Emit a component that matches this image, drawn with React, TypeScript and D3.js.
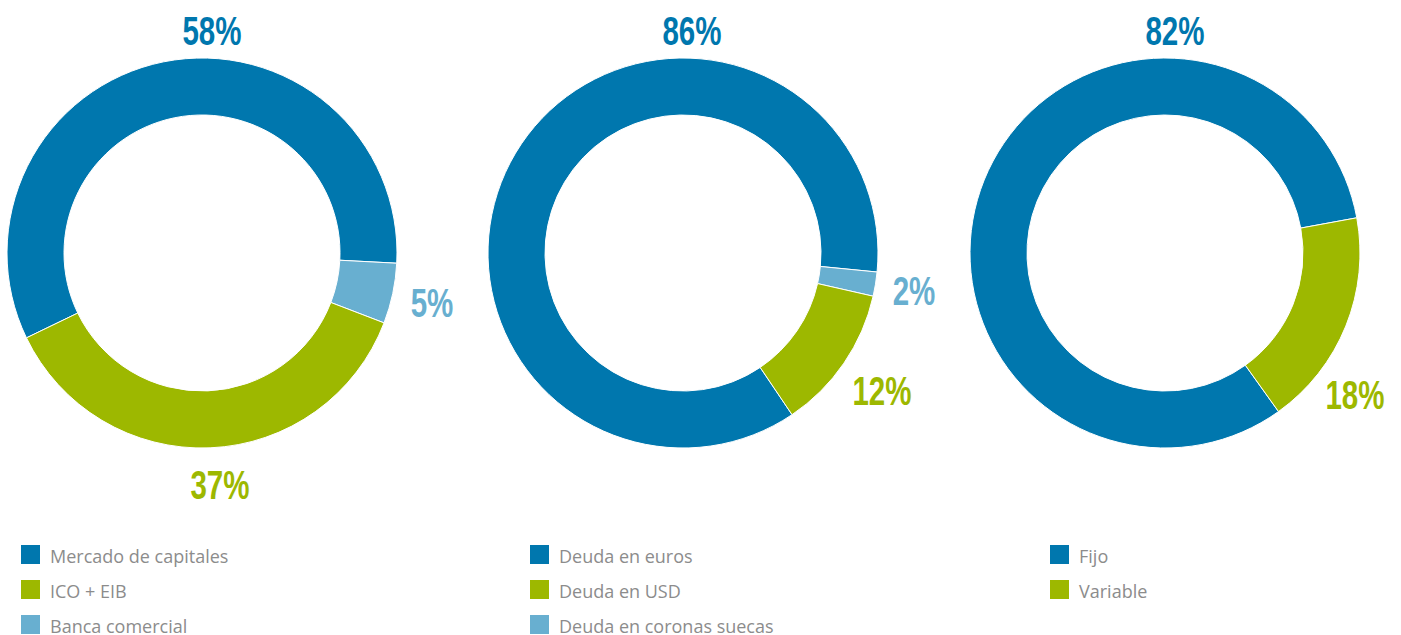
import React from "react";
import * as d3 from "d3";

const chart1Categories = ["Mercado de capitales", "Banca comercial", "ICO + EIB"];
const chart1Values = [58, 5, 37];
const chart2Categories = ["Deuda en euros", "Deuda en coronas suecas", "Deuda en USD"];
const chart2Values = [86, 2, 12];
const chart3Categories = ["Fijo", "Variable"];
const chart3Values = [82, 18];

const legend1 = ["Mercado de capitales", "ICO + EIB", "Banca comercial"];
const legend2 = ["Deuda en euros", "Deuda en USD", "Deuda en coronas suecas"];
const legend3 = ["Fijo", "Variable"];

const BLUE = "#0077ae";
const GREEN = "#9db800";
const LIGHT = "#68afd0";

const colorOf: Record<string, string> = {
  "Mercado de capitales": BLUE,
  "ICO + EIB": GREEN,
  "Banca comercial": LIGHT,
  "Deuda en euros": BLUE,
  "Deuda en USD": GREEN,
  "Deuda en coronas suecas": LIGHT,
  Fijo: BLUE,
  Variable: GREEN,
};

// layout: center, first slice end angle (deg, clockwise from top), label offsets
const charts = [
  { cats: chart1Categories, vals: chart1Values, cx: 202, endDeg: 93, labels: [[10, -223], [230, 49], [18, 231]], legend: legend1, lx: 21 },
  { cats: chart2Categories, vals: chart2Values, cx: 683, endDeg: 95.6, labels: [[9, -223], [231, 37], [199, 137]], legend: legend2, lx: 530 },
  { cats: chart3Categories, vals: chart3Values, cx: 1165, endDeg: 79.6, labels: [[10, -223], [190, 141]], legend: legend3, lx: 1050 },
];

const CY = 253;
const R_OUT = 195;
const R_IN = 138;

function Donut({ c }: { c: (typeof charts)[number] }) {
  const total = d3.sum(c.vals);
  const firstSpan = (c.vals[0] / total) * 2 * Math.PI;
  const end = (c.endDeg * Math.PI) / 180;
  const start = end - firstSpan;
  const pie = d3.pie<number>().sort(null).value((d) => d).startAngle(start).endAngle(start + 2 * Math.PI);
  const arcs = pie(c.vals);
  const arc = d3.arc<d3.PieArcDatum<number>>().innerRadius(R_IN).outerRadius(R_OUT);
  return (
    <g>
      <g transform={`translate(${c.cx},${CY})`}>
        {arcs.map((a, i) => (
          <path key={i} d={arc(a) || ""} fill={colorOf[c.cats[i]]} stroke="#fff" strokeWidth={1} />
        ))}
        {arcs.map((a, i) => (
          <g key={"l" + i} transform={`translate(${c.labels[i][0]},${c.labels[i][1]}) scale(0.72,1)`}>
            <text
              dy="0.36em"
              textAnchor="middle"
              fontFamily="'Liberation Sans', Arial, sans-serif"
              fontWeight="bold"
              fontSize={41}
              fill={colorOf[c.cats[i]]}
            >
              {c.vals[i]}%
            </text>
          </g>
        ))}
      </g>
      {c.legend.map((name, i) => (
        <g key={name} transform={`translate(${c.lx},${545 + i * 35})`}>
          <rect width={19} height={19} fill={colorOf[name]} />
          <text x={29} y={18} fontFamily="'Open Sans', sans-serif" fontSize={18} fill="#8c8c8c">
            {name}
          </text>
        </g>
      ))}
    </g>
  );
}

export default function App() {
  return (
    <div style={{ position: "absolute", left: 0, top: 0 }}>
      <svg width={1401} height={635} style={{ display: "block", background: "#fff" }}>
        {charts.map((c, i) => (
          <Donut key={i} c={c} />
        ))}
      </svg>
    </div>
  );
}
